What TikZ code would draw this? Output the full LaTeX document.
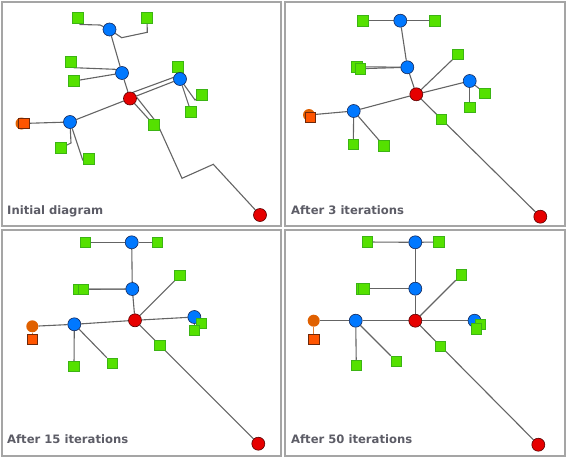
\documentclass[tikz,border=0pt]{standalone}
\usepackage{fontspec}
\setmainfont{DejaVu Sans}
\usetikzlibrary{backgrounds}
\definecolor{hubblue}{RGB}{0,120,255}
\definecolor{hubline}{RGB}{20,40,90}
\definecolor{rootred}{RGB}{230,0,0}
\definecolor{rootline}{RGB}{90,0,0}
\definecolor{leafgreen}{RGB}{85,225,0}
\definecolor{leafline}{RGB}{60,180,20}
\definecolor{dotorange}{RGB}{224,96,0}
\definecolor{boxorange}{RGB}{255,85,0}
\definecolor{boxline}{RGB}{110,40,10}
\definecolor{linkgray}{RGB}{100,100,100}
\definecolor{framegray}{RGB}{165,165,165}
\definecolor{captiongray}{RGB}{92,92,102}

\begin{document}
\begin{tikzpicture}[x=1pt,y=-1pt]
	\tikzstyle{hub} = [circle,draw=hubline,fill=hubblue,line width=0.6pt,minimum size=13pt,inner sep=0pt]
	\tikzstyle{root} = [circle,draw=rootline,fill=rootred,line width=0.6pt,minimum size=13pt,inner sep=0pt]
	\tikzstyle{leaf} = [rectangle,draw=leafline,fill=leafgreen,line width=0.6pt,minimum size=10.5pt,inner sep=0pt]
	\tikzstyle{orangedot} = [circle,fill=dotorange,minimum size=12pt,inner sep=0pt]
	\tikzstyle{orangebox} = [rectangle,draw=boxline,fill=boxorange,line width=0.6pt,minimum size=10.5pt,inner sep=0pt]
	\tikzstyle{link} = [draw=linkgray,line width=1.1pt]
	\tikzstyle{orangelink} = [draw=dotorange!80!white,line width=1.1pt]
	\tikzstyle{frame} = [draw=framegray,line width=2pt]
	\tikzstyle{caption} = [anchor=base west,inner sep=0pt,text=captiongray,font=\fontsize{11.6}{13}\selectfont\bfseries]

	\useasboundingbox (0,0) rectangle (567,458);
	\draw[frame] (2,2) rectangle (281,226);
	\draw[frame] (285,2) rectangle (565,226);
	\draw[frame] (2,230) rectangle (281,456);
	\draw[frame] (285,230) rectangle (565,456);

	\node[caption] (InitCaption) at (7,214) {Initial diagram};
	\node[caption] (ThreeCaption) at (291,214) {After 3 iterations};
	\node[caption] (FifteenCaption) at (7,443) {After 15 iterations};
	\node[caption] (FiftyCaption) at (291,443) {After 50 iterations};

	\node[leaf] (InitLeafTopL) at (78,18) {};
	\node[leaf] (InitLeafTopR) at (147,18) {};
	\node[hub] (InitHubTop) at (109.5,29.5) {};
	\node[leaf] (InitLeafMidA) at (71,62) {};
	\node[leaf] (InitLeafMidB) at (74,81) {};
	\node[hub] (InitHubMid) at (122,73) {};
	\node[leaf] (InitLeafRoot) at (178,67) {};
	\node[hub] (InitHubRight) at (180,79) {};
	\node[leaf] (InitLeafRightA) at (202,95) {};
	\node[leaf] (InitLeafRightB) at (191,112) {};
	\node[root] (InitRoot) at (130,98.5) {};
	\node[leaf] (InitLeafDown) at (154,125) {};
	\node[hub] (InitHubLeft) at (70,122) {};
	\node[orangedot] (InitOrangeDot) at (21.5,123.5) {};
	\node[orangebox] (InitOrangeBox) at (24,123.5) {};
	\node[leaf] (InitLeafLeftA) at (61,148) {};
	\node[leaf] (InitLeafLeftB) at (89,159) {};
	\node[root] (InitSink) at (260,215) {};

	\coordinate (InitBendA) at (80,24.5);
	\coordinate (InitBendB) at (100,25);
	\coordinate (InitBendC) at (121.7,37.7);
	\coordinate (InitBendD) at (147.3,32.3);
	\coordinate (InitBendE) at (74,67.7);
	\coordinate (InitBendF) at (115,69.3);
	\coordinate (InitBendG) at (176,76.5);
	\coordinate (InitBendH) at (195,100);
	\coordinate (InitBendI) at (157,123);
	\coordinate (InitBendJ) at (182,178.3);
	\coordinate (InitBendK) at (213.3,164.3);
	\coordinate (InitBendL) at (71,143);
	\coordinate (InitBendM) at (82.7,160);

	\node[leaf] (ThreeLeafTopL) at (363,20.7) {};
	\node[leaf] (ThreeLeafTopR) at (434.7,20.7) {};
	\node[hub] (ThreeHubTop) at (400.3,20.7) {};
	\node[leaf] (ThreeLeafMidA) at (357,66.7) {};
	\node[leaf] (ThreeLeafMidB) at (360.3,68.7) {};
	\node[hub] (ThreeHubMid) at (407.3,67.3) {};
	\node[root] (ThreeRoot) at (416.3,94.3) {};
	\node[leaf] (ThreeLeafRoot) at (458,54.3) {};
	\node[hub] (ThreeHubRight) at (469.7,81) {};
	\node[leaf] (ThreeLeafRightA) at (485,93.3) {};
	\node[leaf] (ThreeLeafRightB) at (469.7,107.3) {};
	\node[leaf] (ThreeLeafDown) at (441.3,119.3) {};
	\node[hub] (ThreeHubLeft) at (353.7,111) {};
	\node[orangedot] (ThreeOrangeDot) at (309,115) {};
	\node[orangebox] (ThreeOrangeBox) at (310.3,117.3) {};
	\node[leaf] (ThreeLeafLeftA) at (353.3,144.3) {};
	\node[leaf] (ThreeLeafLeftB) at (384,146) {};
	\node[root] (ThreeSink) at (540.3,216.7) {};

	\node[leaf] (FifteenLeafTopL) at (85.3,242.3) {};
	\node[leaf] (FifteenLeafTopR) at (157.3,242.3) {};
	\node[hub] (FifteenHubTop) at (131.7,242.3) {};
	\node[leaf] (FifteenLeafMidA) at (79,289.3) {};
	\node[leaf] (FifteenLeafMidB) at (83.3,289.3) {};
	\node[hub] (FifteenHubMid) at (132.3,289) {};
	\node[root] (FifteenRoot) at (135,320.3) {};
	\node[leaf] (FifteenLeafRoot) at (180,275.3) {};
	\node[hub] (FifteenHubRight) at (194.3,317) {};
	\node[leaf] (FifteenLeafRightA) at (201.5,323.3) {};
	\node[leaf] (FifteenLeafRightB) at (194.3,330.3) {};
	\node[leaf] (FifteenLeafDown) at (160,345.3) {};
	\node[hub] (FifteenHubLeft) at (74.3,324.3) {};
	\node[orangedot] (FifteenOrangeDot) at (32.3,326.3) {};
	\node[orangebox] (FifteenOrangeBox) at (32.3,339.3) {};
	\node[leaf] (FifteenLeafLeftA) at (74,366.3) {};
	\node[leaf] (FifteenLeafLeftB) at (112.3,363.3) {};
	\node[root] (FifteenSink) at (258.3,443.7) {};

	\node[leaf] (FiftyLeafTopL) at (367.3,242) {};
	\node[leaf] (FiftyLeafTopR) at (439,242) {};
	\node[hub] (FiftyHubTop) at (415.3,242.3) {};
	\node[leaf] (FiftyLeafMidA) at (361.3,288.7) {};
	\node[leaf] (FiftyLeafMidB) at (364,288.7) {};
	\node[hub] (FiftyHubMid) at (415.3,288.7) {};
	\node[root] (FiftyRoot) at (415.3,320.7) {};
	\node[leaf] (FiftyLeafRoot) at (461.3,274.7) {};
	\node[hub] (FiftyHubRight) at (474.5,320.7) {};
	\node[leaf] (FiftyLeafRightA) at (480.5,324.5) {};
	\node[leaf] (FiftyLeafRightB) at (476.5,329) {};
	\node[leaf] (FiftyLeafDown) at (440.3,346.3) {};
	\node[hub] (FiftyHubLeft) at (355.7,320.7) {};
	\node[orangedot] (FiftyOrangeDot) at (313.7,320.7) {};
	\node[orangebox] (FiftyOrangeBox) at (313.7,339.3) {};
	\node[leaf] (FiftyLeafLeftA) at (356.3,365.3) {};
	\node[leaf] (FiftyLeafLeftB) at (396.3,361.3) {};
	\node[root] (FiftySink) at (538.3,444.7) {};

	\begin{scope}[on background layer]
	\draw[link] (InitLeafTopL) -- (InitBendA) -- (InitBendB) -- (InitHubTop);
	\draw[link] (InitHubTop) -- (InitBendC) -- (InitBendD) -- (InitLeafTopR);
	\draw[link] (InitHubTop) -- (InitHubMid);
	\draw[link] (InitLeafMidA) -- (InitBendE) -- (InitBendF) -- (InitHubMid);
	\draw[link] (InitLeafMidB) -- (InitHubMid);
	\draw[link] (InitHubMid) -- (InitRoot);
	\draw[link] (InitRoot) -- (InitHubRight);
	\draw[link] (InitRoot.65) -- (InitBendG) -- (InitLeafRoot);
	\draw[link] (InitHubRight) -- (InitBendH) -- (InitLeafRightA);
	\draw[link] (InitHubRight) -- (InitLeafRightB);
	\draw[link] (InitRoot) -- (InitLeafDown);
	\draw[link] (InitRoot.10) -- (InitBendI) -- (InitBendJ) -- (InitBendK) -- (InitSink);
	\draw[link] (InitRoot) -- (InitHubLeft);
	\draw[link] (InitHubLeft) -- (InitOrangeDot);
	\draw[link] (InitHubLeft) -- (InitBendL) -- (InitLeafLeftA);
	\draw[link] (InitHubLeft) -- (InitBendM) -- (InitLeafLeftB);

	\draw[link] (ThreeHubTop) -- (ThreeLeafTopL);
	\draw[link] (ThreeHubTop) -- (ThreeLeafTopR);
	\draw[link] (ThreeHubTop) -- (ThreeHubMid);
	\draw[link] (ThreeHubMid) -- (ThreeLeafMidA);
	\draw[link] (ThreeHubMid) -- (ThreeLeafMidB);
	\draw[link] (ThreeHubMid) -- (ThreeRoot);
	\draw[link] (ThreeRoot) -- (ThreeLeafRoot);
	\draw[link] (ThreeRoot) -- (ThreeHubRight);
	\draw[link] (ThreeHubRight) -- (ThreeLeafRightA);
	\draw[link] (ThreeHubRight) -- (ThreeLeafRightB);
	\draw[link] (ThreeRoot) -- (ThreeSink);
	\draw[link] (ThreeRoot) -- (ThreeHubLeft);
	\draw[link] (ThreeHubLeft) -- (ThreeOrangeDot);
	\draw[link] (ThreeHubLeft) -- (ThreeLeafLeftA);
	\draw[link] (ThreeHubLeft) -- (ThreeLeafLeftB);

	\draw[link] (FifteenHubTop) -- (FifteenLeafTopL);
	\draw[link] (FifteenHubTop) -- (FifteenLeafTopR);
	\draw[link] (FifteenHubTop) -- (FifteenHubMid);
	\draw[link] (FifteenHubMid) -- (FifteenLeafMidA);
	\draw[link] (FifteenHubMid) -- (FifteenLeafMidB);
	\draw[link] (FifteenHubMid) -- (FifteenRoot);
	\draw[link] (FifteenRoot) -- (FifteenLeafRoot);
	\draw[link] (FifteenRoot) -- (FifteenHubRight);
	\draw[link] (FifteenHubRight) -- (FifteenLeafRightA);
	\draw[link] (FifteenHubRight) -- (FifteenLeafRightB);
	\draw[link] (FifteenRoot) -- (FifteenSink);
	\draw[link] (FifteenRoot) -- (FifteenHubLeft);
	\draw[link] (FifteenHubLeft) -- (FifteenOrangeDot);
	\draw[orangelink] (FifteenOrangeDot) -- (FifteenOrangeBox);
	\draw[link] (FifteenHubLeft) -- (FifteenLeafLeftA);
	\draw[link] (FifteenHubLeft) -- (FifteenLeafLeftB);

	\draw[link] (FiftyHubTop) -- (FiftyLeafTopL);
	\draw[link] (FiftyHubTop) -- (FiftyLeafTopR);
	\draw[link] (FiftyHubTop) -- (FiftyHubMid);
	\draw[link] (FiftyHubMid) -- (FiftyLeafMidA);
	\draw[link] (FiftyHubMid) -- (FiftyLeafMidB);
	\draw[link] (FiftyHubMid) -- (FiftyRoot);
	\draw[link] (FiftyRoot) -- (FiftyLeafRoot);
	\draw[link] (FiftyRoot) -- (FiftyHubRight);
	\draw[link] (FiftyHubRight) -- (FiftyLeafRightA);
	\draw[link] (FiftyHubRight) -- (FiftyLeafRightB);
	\draw[link] (FiftyRoot) -- (FiftySink);
	\draw[link] (FiftyRoot) -- (FiftyHubLeft);
	\draw[link] (FiftyHubLeft) -- (FiftyOrangeDot);
	\draw[orangelink] (FiftyOrangeDot) -- (FiftyOrangeBox);
	\draw[link] (FiftyHubLeft) -- (FiftyLeafLeftA);
	\draw[link] (FiftyHubLeft) -- (FiftyLeafLeftB);
	\end{scope}
\end{tikzpicture}
\end{document}
